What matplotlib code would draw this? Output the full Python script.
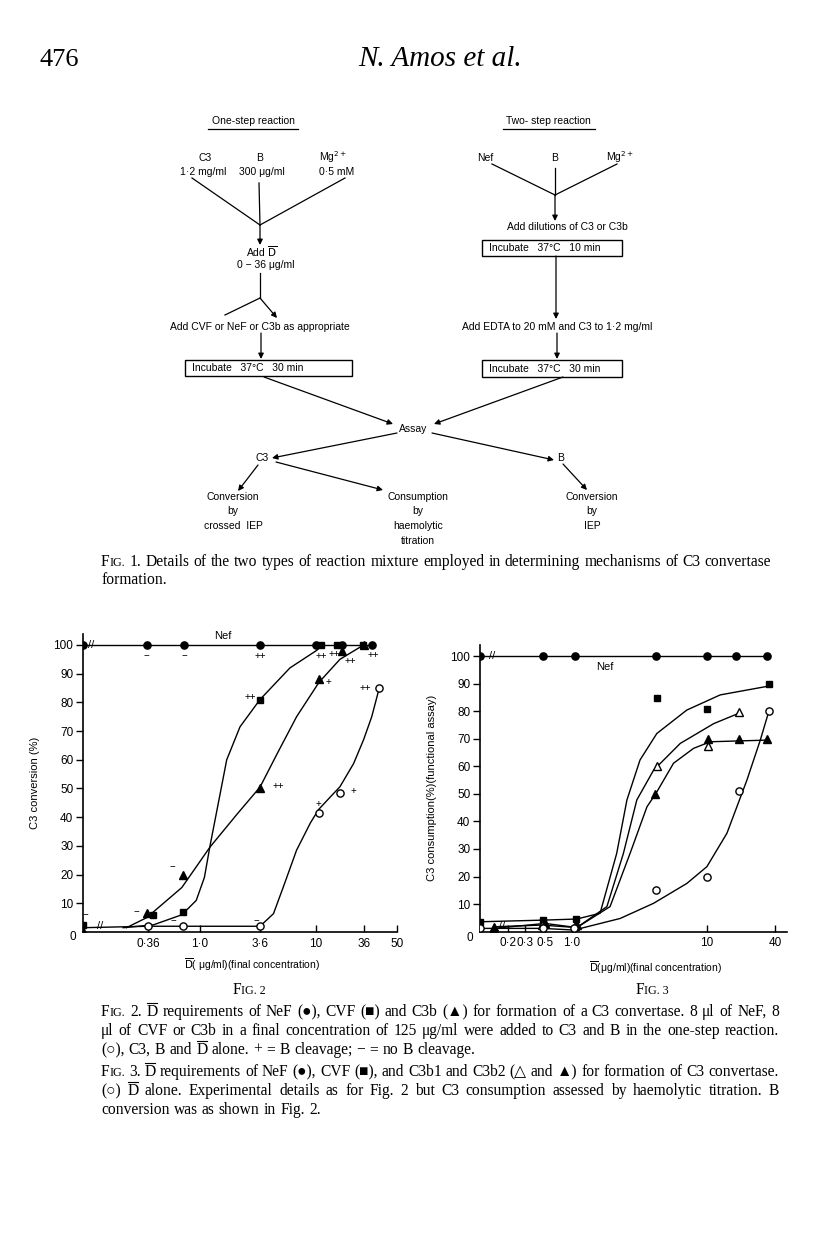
import numpy as np
import matplotlib
matplotlib.use("Agg")
import matplotlib.pyplot as plt
from matplotlib.patches import Rectangle

SANS = ["Liberation Sans", "DejaVu Sans"]
SERIF = ["Liberation Serif", "DejaVu Serif"]

# -------------------------------
# Fig. 2 : C3 conversion (%) vs D (ug/ml)
# -------------------------------
fig2_ticks = [0.36, 1.0, 3.6, 10, 36, 50]
fig2_ticklabels = ["0·36", "1·0", "3·6", "10", "36", "50"]

nef2_x = [0, 0.35, 0.73, 3.6, 10, 20, 39]
nef2_y = [100, 100, 100, 100, 100, 100, 100]
cvf2_x = [0, 0.40, 0.72, 3.6, 11.5, 17.5, 35]
cvf2_y = [2.5, 6, 7, 81, 100, 100, 100]
c3b2_x = [0, 0.35, 0.72, 3.6, 10.8, 20, 36]
c3b2_y = [0.5, 6.5, 20, 50, 88, 98, 100]
alone2_x = [0.36, 0.72, 3.6, 10.7, 19, 42]
alone2_y = [2, 2, 2, 41.5, 48.3, 85]

# hand drawn curves
cvf2_cx = [0.22, 0.40, 0.70, 0.93, 1.1, 1.24, 1.43, 1.77, 2.35, 3.6, 6.2, 10, 12]
cvf2_cy = [1.5, 2.5, 6, 11, 19, 30, 42, 60, 71.5, 81, 92, 98, 100]
c3b2_cx = [0.235, 0.35, 0.70, 1.24, 2.2, 3.6, 4.9, 7.0, 10.8, 19, 36]
c3b2_cy = [1.5, 5, 15.5, 29.6, 41, 50.5, 62, 75, 87, 95, 100]
alone2_cx = [0, 0.36, 0.72, 3.6, 4.6, 5.5, 7.0, 9.0, 10.7, 14.6, 19, 27.5, 36, 39, 42]
alone2_cy = [1.5, 2, 2, 2, 6.4, 15.7, 28.5, 38, 42.7, 47, 50.6, 58.7, 67, 75, 85]

# B cleavage marks (+ / -) next to the points
marks2_text = ["−", "−", "++", "++", "++", "++", "++", "++", "++", "+", "++", "+", "+",
               "−", "−", "−", "−", "−", "−"]
marks2_x = [0.35, 0.73, 3.6, 11.5, 16.5, 25, 39.5, 2.9, 5.0, 14, 36.6, 27, 10.7,
            0.58, 0.286, 0.59, 3.3, 0.34, 0.105]
marks2_y = [96, 96, 96, 96.3, 96.9, 94.3, 96.5, 82, 51, 87, 85, 49, 44.5,
            22.7, 7, 3.8, 3.8, 5, 6]

# -------------------------------
# Fig. 3 : C3 consumption (%) vs D (ug/ml)
# -------------------------------
fig3_ticks = [0.2, 0.3, 0.5, 1.0, 10, 40]
fig3_ticklabels = ["0·2", "0·3", "0·5", "1·0", "10", "40"]

nef3_x = [0, 0.47, 1.05, 4.2, 10, 18, 34]
nef3_y = [100, 100, 100, 100, 100, 100, 100]
cvf3_x = [0, 0.48, 1.08, 4.3, 10, 35]
cvf3_y = [3.6, 4.2, 4.6, 84.6, 80.7, 89.8]
c3b1_x = [0.14, 0.46, 1.06, 4.3, 10.2, 19]
c3b1_y = [1.8, 2.4, 2, 60, 67.4, 79.8]
c3b2b_x = [0.14, 0.5, 1.1, 4.1, 10.2, 19, 34]
c3b2b_y = [1.2, 3, 2.4, 50, 70, 70, 70]
alone3_x = [0, 0.47, 1.03, 4.2, 10, 19, 35]
alone3_y = [1.2, 1.2, 1.2, 15, 20, 51, 80]

cvf3_cx = [0, 0.48, 1.09, 1.62, 2.15, 2.56, 3.2, 4.26, 7.1, 13.1, 35]
cvf3_cy = [3.6, 4.2, 4.6, 6.7, 28.4, 47.8, 62.3, 71.9, 80.4, 85.9, 89.1]
c3b1_cx = [0.14, 0.46, 1.09, 1.82, 2.41, 3.03, 4.03, 6.35, 11.5, 19]
c3b1_cy = [1.8, 2.4, 1.5, 9.1, 28.4, 47.8, 58.6, 68.3, 75.5, 79.2]
c3b2b_cx = [0.14, 0.5, 1.09, 1.92, 2.7, 3.6, 4.2, 5.66, 7.96, 10.7, 33.8]
c3b2b_cy = [1.2, 3, 1.5, 9.1, 28.4, 45.3, 50.2, 61.1, 66.5, 68.9, 69.5]
alone3_cx = [0, 0.47, 1.04, 2.28, 4.03, 7.1, 10, 15, 22.5, 29.5, 35]
alone3_cy = [1.2, 1.2, 0.6, 4.8, 10.3, 17.5, 23.6, 35.7, 55, 69.5, 79.8]

W, H = 816, 1236
fig = plt.figure(figsize=(W / 100, H / 100), dpi=100)
fig.patch.set_facecolor("white")

page = fig.add_axes([0, 0, 1, 1])
page.set_xlim(0, W)
page.set_ylim(H, 0)
page.axis("off")


def page_rect(left, top, right, bottom):
    return [left / W, 1 - bottom / H, (right - left) / W, (bottom - top) / H]


def hand_scale(anchor_vals, anchor_pos):
    # the printed axis is roughly logarithmic but drawn by hand
    lv = np.log10(anchor_vals)

    def fwd(x):
        x = np.asarray(x, dtype=float)
        return np.interp(np.log10(np.maximum(x, 1e-6)), lv, anchor_pos)

    def inv(p):
        return 10 ** np.interp(p, anchor_pos, lv)

    return fwd, inv


def setup_chart(ax, scale, ticks, ticklabels, ylabel):
    ax.set_xscale("function", functions=scale)
    ax.set_xlim(0, 50)
    ax.set_ylim(0, 104)
    for s in ["top", "right"]:
        ax.spines[s].set_visible(False)
    for s in ["left", "bottom"]:
        ax.spines[s].set_linewidth(1.2)
    ax.set_xticks(ticks)
    ax.set_xticklabels(ticklabels, fontsize=8.5, family=SANS)
    ax.xaxis.set_minor_locator(matplotlib.ticker.NullLocator())
    ax.set_yticks(range(10, 101, 10))
    ax.set_yticklabels([str(v) for v in range(10, 101, 10)], fontsize=8.5, family=SANS)
    ax.tick_params(axis="x", direction="in", length=5, width=1, pad=4)
    ax.tick_params(axis="y", direction="out", length=5, width=1, pad=2)
    ax.set_facecolor("none")
    ax.set_ylabel(ylabel, fontsize=8, family=SANS, labelpad=10)


line_kw = dict(color="black", lw=1.0, zorder=2)
mk = dict(ls="none", color="black", zorder=3)

# ---- Fig. 2 ----
ax2 = fig.add_axes(page_rect(83, 633.5, 397, 932))
setup_chart(ax2, hand_scale([0.1, 0.36, 1, 3.6, 10, 36, 50],
                            [160, 355, 510, 690, 858, 1000, 1100]),
            fig2_ticks, fig2_ticklabels, "C3 conversion (%)")
ax2.plot(nef2_x, nef2_y, **line_kw)
ax2.plot(cvf2_cx, cvf2_cy, **line_kw)
ax2.plot(c3b2_cx, c3b2_cy, **line_kw)
ax2.plot(alone2_cx, alone2_cy, **line_kw)
ax2.plot(nef2_x, nef2_y, marker="o", ms=5.2, **mk)
ax2.plot(cvf2_x, cvf2_y, marker="s", ms=4.8, **mk)
ax2.plot(c3b2_x, c3b2_y, marker="^", ms=5.8, **mk)
ax2.plot(alone2_x, alone2_y, marker="o", ms=5.2, mfc="white", mew=1, **mk)
for t, x, y in zip(marks2_text, marks2_x, marks2_y):
    ax2.text(x, y, t, fontsize=7, family=SANS, ha="center", va="center", zorder=4)
ax2.text(0.118, 100, "//", fontsize=8, family=SANS, ha="center", va="center", zorder=4)
ax2.text(0.14, 2, "//", fontsize=8, family=SANS, ha="center", va="center", zorder=4)
ax2.text(1.63, 103, "Nef", fontsize=8, family=SANS, ha="center", va="center")

# ---- Fig. 3 ----
ax3 = fig.add_axes(page_rect(480, 645, 787, 931.7))
setup_chart(ax3, hand_scale([0.1, 0.2, 0.3, 0.5, 1, 10, 40, 50],
                            [180, 265, 315, 375, 455, 860, 1065, 1100]),
            fig3_ticks, fig3_ticklabels, "C3 consumption(%)(functional assay)")
ax3.plot(nef3_x, nef3_y, **line_kw)
ax3.plot(cvf3_cx, cvf3_cy, **line_kw)
ax3.plot(c3b1_cx, c3b1_cy, **line_kw)
ax3.plot(c3b2b_cx, c3b2b_cy, **line_kw)
ax3.plot(alone3_cx, alone3_cy, **line_kw)
ax3.plot(nef3_x, nef3_y, marker="o", ms=5.2, **mk)
ax3.plot(cvf3_x, cvf3_y, marker="s", ms=4.8, **mk)
ax3.plot(c3b1_x, c3b1_y, marker="^", ms=5.8, mfc="white", mew=1, **mk)
ax3.plot(c3b2b_x, c3b2b_y, marker="^", ms=5.8, **mk)
ax3.plot(alone3_x, alone3_y, marker="o", ms=5.2, mfc="white", mew=1, **mk)
ax3.text(0.133, 100, "//", fontsize=8, family=SANS, ha="center", va="center", zorder=4)
ax3.text(0.17, 2, "//", fontsize=8, family=SANS, ha="center", va="center", zorder=4)
ax3.text(1.77, 96, "Nef", fontsize=8, family=SANS, ha="center", va="center")

# origin "0" labels and x labels
page.text(73, 937, "0", fontsize=8.5, family=SANS, ha="center", va="center")
page.text(470, 938, "0", fontsize=8.5, family=SANS, ha="center", va="center")
page.text(252, 965, r"$\overline{\mathrm{D}}$( μg/ml)(final concentration)", fontsize=7.5,
          family=SANS, ha="center", va="center", math_fontfamily="dejavusans")
page.text(655, 968, r"$\overline{\mathrm{D}}$(μg/ml)(final concentration)", fontsize=7.5,
          family=SANS, ha="center", va="center", math_fontfamily="dejavusans")

# -------------------------------
# Fig. 1 flow chart (page pixel coordinates)
# -------------------------------
ft = dict(fontsize=7.5, family=SANS, ha="center", va="center")


def seg(x0, y0, x1, y1):
    page.plot([x0, x1], [y0, y1], color="black", lw=0.9)


def arrow(x0, y0, x1, y1):
    page.annotate("", xy=(x1, y1), xytext=(x0, y0),
                  arrowprops=dict(arrowstyle="-|>", color="black", lw=0.9,
                                  mutation_scale=8, shrinkA=0, shrinkB=0))


def box(x0, y0, x1, y1, label):
    page.add_patch(Rectangle((x0, y0), x1 - x0, y1 - y0, fill=False, lw=1))
    page.text(x0 + 7, (y0 + y1) / 2, label, fontsize=7.5, family=SANS, ha="left", va="center")


# one-step
page.text(253, 121, "One-step reaction", **ft)
seg(208, 129, 298, 129)
page.text(205, 158, "C3", **ft)
page.text(203, 172, "1·2 mg/ml", **ft)
page.text(260, 158, "B", **ft)
page.text(262, 172, "300 μg/ml", **ft)
page.text(333, 157, r"Mg$^{2+}$", math_fontfamily="dejavusans", **ft)
page.text(337, 172, "0·5 mM", **ft)
seg(192, 178, 260, 225)
seg(259, 183, 260, 225)
seg(345, 178, 260, 225)
arrow(260, 225, 260, 245)
page.text(262, 252, r"Add $\overline{\mathrm{D}}$", math_fontfamily="dejavusans", **ft)
page.text(266, 265, "0 − 36 μg/ml", **ft)
seg(260, 273, 260, 298)
seg(260, 298, 225, 315)
arrow(260, 298, 277, 318)
page.text(260, 327, "Add CVF or NeF or C3b as appropriate", **ft)
arrow(261, 333, 261, 359)
box(185, 360, 352, 376, "Incubate   37°C   30 min")
arrow(264, 377, 393, 424)

# two-step
page.text(548, 121, "Two- step reaction", **ft)
seg(503, 129, 595, 129)
page.text(485, 158, "Nef", **ft)
page.text(555, 158, "B", **ft)
page.text(620, 157, r"Mg$^{2+}$", math_fontfamily="dejavusans", **ft)
seg(492, 164, 555, 195)
seg(555, 168, 555, 195)
seg(617, 164, 555, 195)
arrow(555, 195, 555, 221)
page.text(567, 227, "Add dilutions of C3 or C3b", **ft)
box(482, 240, 622, 256, "Incubate   37°C   10 min")
arrow(556, 256, 556, 319)
page.text(557, 327, "Add EDTA to 20 mM and C3 to 1·2 mg/ml", **ft)
arrow(557, 333, 557, 359)
box(482, 360, 622, 377, "Incubate   37°C   30 min")
arrow(563, 377, 434, 424)

# assay
page.text(413, 429, "Assay", **ft)
arrow(397, 433, 272, 458)
page.text(262, 458, "C3", **ft)
arrow(432, 433, 554, 460)
page.text(561, 458, "B", **ft)
arrow(258, 465, 238, 491)
arrow(276, 462, 383, 490)
arrow(563, 464, 587, 490)
for i, s in enumerate(["Conversion", "by", "crossed  IEP"]):
    page.text(233, 497 + 14.5 * i, s, **ft)
for i, s in enumerate(["Consumption", "by", "haemolytic", "titration"]):
    page.text(418, 497 + 14.5 * i, s, **ft)
for i, s in enumerate(["Conversion", "by", "IEP"]):
    page.text(592, 497 + 14.5 * i, s, **ft)

# -------------------------------
# page text: header and captions
# -------------------------------
page.text(40, 66, "476", fontsize=19, family=SERIF, ha="left", va="baseline")
page.text(440, 66, "N. Amos et al.", fontsize=21, family=SERIF, style="italic",
          ha="center", va="baseline")

renderer = fig.canvas.get_renderer()


def text_w(t):
    return t.get_window_extent(renderer).width


def word_pieces(w):
    # (text, size factor, overline)
    if w.startswith("FIG."):
        return [("F", 1.0, False), (w[1:], 0.78, False)]
    if w.startswith("Dbar"):
        out = [("D", 1.0, True)]
        if len(w) > 4:
            out.append((w[4:], 1.0, False))
        return out
    return [(w, 1.0, False)]


def put_line(y, line, x0=101, x1=None, size=11.2):
    parts = []
    for w in line.split(" "):
        p = []
        for s, f, bar in word_pieces(w):
            t = page.text(0, y, s, fontsize=size * f, family=SERIF, va="baseline", ha="left")
            p.append((t, bar))
        parts.append(p)
    widths = [sum(text_w(t) for t, _ in p) for p in parts]
    gap = size * 0.27 * 100 / 72
    if x1 is not None and len(parts) > 1:
        gap = (x1 - x0 - sum(widths)) / (len(parts) - 1)
    x = x0
    cap = 0.66 * size * 100 / 72
    for p in parts:
        for t, bar in p:
            t.set_x(x)
            w = text_w(t)
            if bar:
                page.plot([x + 0.5, x + w - 0.5], [y - cap - 2.5] * 2, color="black", lw=0.8)
            x += w
        x += gap


put_line(566, "FIG. 1. Details of the two types of reaction mixture employed in "
              "determining mechanisms of C3 convertase")
put_line(584, "formation.")
put_line(1016, "FIG. 2. Dbar requirements of NeF (●), CVF (■) and C3b (▲) for formation "
               "of a C3 convertase. 8 μl of NeF, 8", x1=779)
put_line(1035, "μl of CVF or C3b in a final concentration of 125 μg/ml were added to C3 "
               "and B in the one-step reaction.", x1=779)
put_line(1054, "(○), C3, B and Dbar alone. + = B cleavage; − = no B cleavage.")
put_line(1076, "FIG. 3. Dbar requirements of NeF (●), CVF (■), and C3b1 and C3b2 "
               "(△ and ▲) for formation of C3 convertase.", x1=779)
put_line(1095, "(○) Dbar alone. Experimental details as for Fig. 2 but C3 consumption "
               "assessed by haemolytic titration. B", x1=779)
put_line(1114, "conversion was as shown in Fig. 2.")

# figure numbers under the charts
for cx, n in [(249, "2"), (652, "3")]:
    a = page.text(0, 994, "F", fontsize=11.2, family=SERIF, va="baseline")
    b = page.text(0, 994, "IG. " + n, fontsize=11.2 * 0.78, family=SERIF, va="baseline")
    total = text_w(a) + text_w(b)
    a.set_x(cx - total / 2)
    b.set_x(cx - total / 2 + text_w(a))

fig.savefig("out.png", dpi=100, facecolor="white")
